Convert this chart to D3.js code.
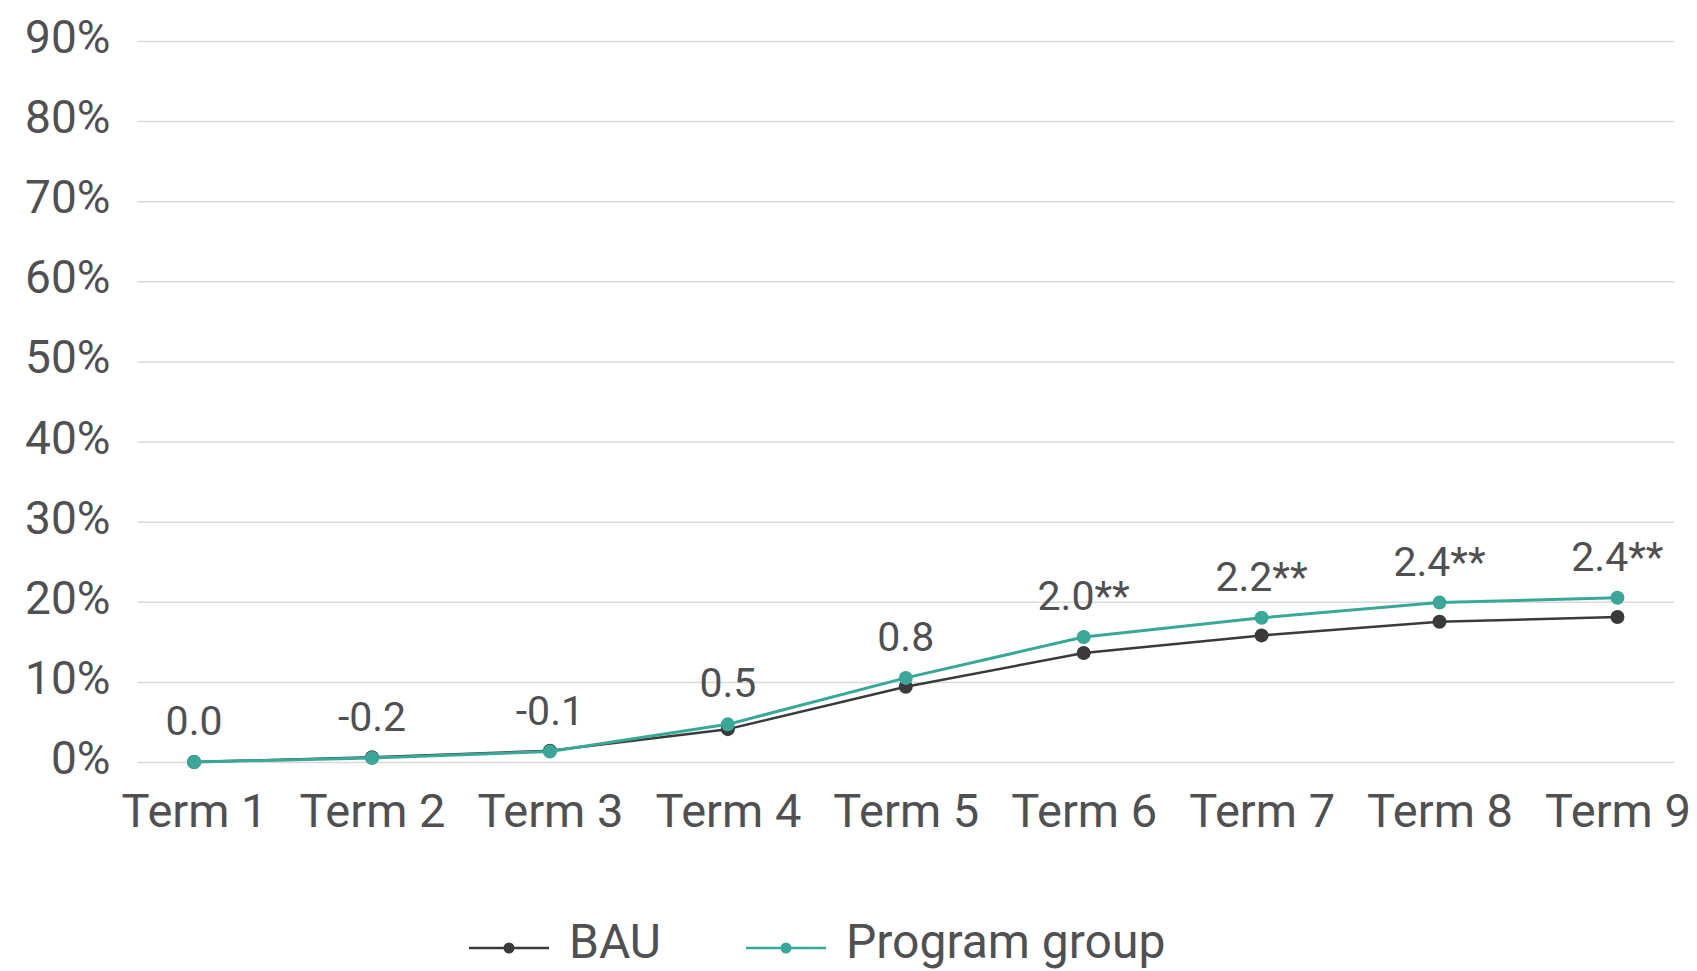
<!DOCTYPE html>
<html><head><meta charset="utf-8">
<script src="https://cdn.jsdelivr.net/npm/d3@7"></script>
<style>
html,body{margin:0;padding:0;background:#fff;}
svg text{font-family:Roboto,"Noto Sans",sans-serif;fill:#505052;}
</style></head>
<body>
<svg id="chart" width="1697" height="971"></svg>
<script>
const terms = ["Term 1","Term 2","Term 3","Term 4","Term 5","Term 6","Term 7","Term 8","Term 9"];
const bauValues = [0, 0.6, 1.4, 4.1, 9.4, 13.6, 15.8, 17.5, 18.1];
const programValues = [0, 0.5, 1.3, 4.7, 10.5, 15.6, 18.0, 19.9, 20.5];
const diffLabels = ["0.0","-0.2","-0.1","0.5","0.8","2.0**","2.2**","2.4**","2.4**"];
const yTicks = [0,10,20,30,40,50,60,70,80,90];
const seriesNames = ["BAU","Program group"];
const seriesColors = ["#3a3a3c","#3aa898"];

(function(){
const svg = d3.select("#chart");
const mLeft = 137.5, mRight = 1674, mTop = 41, mBottom = 762;

const x = d3.scalePoint().domain(terms).range([mLeft, mRight]).padding(0.318);
const y = d3.scaleLinear().domain([0, 90]).range([mBottom, mTop]);

// gridlines
const yAxis = d3.axisLeft(y).tickValues(yTicks).tickSize(-(mRight-mLeft)).tickFormat(d => d + "%");
const gy = svg.append("g").attr("transform", `translate(${mLeft},0)`).call(yAxis);
gy.select(".domain").remove();
gy.selectAll(".tick line").attr("stroke", "#d9d9d9").attr("stroke-width", 1.5);
gy.selectAll(".tick text").attr("x", -27).attr("dy", "0.25em").attr("font-size", 46).attr("fill","#505052");

// x axis labels
const xAxis = d3.axisBottom(x).tickSize(0).tickPadding(0);
const gx = svg.append("g").attr("transform", `translate(0,${mBottom})`).call(xAxis);
gx.select(".domain").remove();
gx.selectAll(".tick text").attr("y", 65).attr("dy", 0).attr("font-size", 47).attr("fill","#505052");

const line = d3.line().x((d,i) => x(terms[i])).y(d => y(d));

const series = [bauValues, programValues];
series.forEach((vals, si) => {
  svg.append("path").datum(vals).attr("d", line)
    .attr("fill","none").attr("stroke", seriesColors[si]).attr("stroke-width", si ? 3 : 2.5)
    .attr("stroke-linejoin","round");
  svg.append("g").selectAll("circle").data(vals).join("circle")
    .attr("cx", (d,i) => x(terms[i])).attr("cy", d => y(d)).attr("r", 7)
    .attr("fill", seriesColors[si]);
});

// difference labels
svg.append("g").selectAll("text").data(diffLabels).join("text")
  .attr("x", (d,i) => x(terms[i]))
  .attr("y", (d,i) => y(programValues[i]) - 27)
  .attr("text-anchor","middle").attr("font-size", 41)
  .text(d => d);

// legend
const legendItems = [
  {name: seriesNames[0], color: seriesColors[0], x0: 469},
  {name: seriesNames[1], color: seriesColors[1], x0: 746}
];
const lg = svg.append("g");
legendItems.forEach(it => {
  lg.append("line").attr("x1", it.x0).attr("x2", it.x0 + 80).attr("y1", 948).attr("y2", 948)
    .attr("stroke", it.color).attr("stroke-width", 2.5);
  lg.append("circle").attr("cx", it.x0 + 40).attr("cy", 948).attr("r", 5.5).attr("fill", it.color);
  lg.append("text").attr("x", it.x0 + 100).attr("y", 958).attr("font-size", 48).text(it.name);
});
})();
</script>
</body></html>
